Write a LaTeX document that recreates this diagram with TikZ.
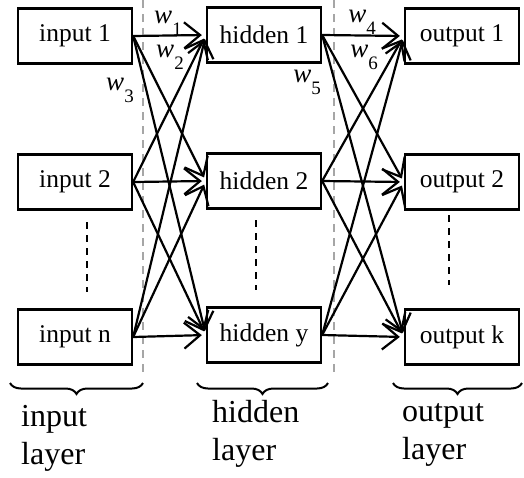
\documentclass[tikz,border=0pt]{standalone}
\usepackage{fontspec}
\setmainfont{Liberation Serif}
\usetikzlibrary{arrows.meta,decorations.pathreplacing}
\newcommand{\wsub}[1]{{\itshape w}\raisebox{-0.45em}{\fontsize{19}{19}\selectfont #1}}
\tikzset{
  unitbox/.style={draw, line width=2.3pt, minimum width=114pt, minimum height=55pt,
    inner sep=0pt, font=\fontsize{25.5}{25.5}\selectfont},
  link/.style={line width=2.2pt, shorten >=4pt,
    -{Straight Barb[length=16pt,width=26pt,line width=2.2pt]}},
  divider/.style={gray!70, line width=1.8pt, dash pattern=on 8pt off 6pt},
  ellipsis/.style={line width=2pt, dash pattern=on 7pt off 6pt},
  layerbrace/.style={decorate, decoration={brace, amplitude=11pt, mirror}, line width=2pt},
  layertext/.style={font=\fontsize{32}{38}\selectfont, align=left, anchor=north west, inner sep=0pt},
  weight/.style={font=\fontsize{27}{27}\selectfont, inner sep=0pt}
}
\begin{document}
\begin{tikzpicture}[x=1pt,y=-1pt]
\useasboundingbox (0,0) rectangle (524,477);

% layer separators
\draw[divider] (143,0) -- (143,372);
\draw[divider] (334,0) -- (334,372);

% units
\node[unitbox] (i1) at (75,36)  {input 1};
\node[unitbox] (i2) at (75,182) {input 2};
\node[unitbox] (in) at (75,337) {input n};
\node[unitbox] (h1) at (264,35)  {hidden 1};
\node[unitbox] (h2) at (264,181) {hidden 2};
\node[unitbox] (hy) at (264,335) {hidden y};
\node[unitbox] (o1) at (462,36)  {output 1};
\node[unitbox] (o2) at (462,182) {output 2};
\node[unitbox] (ok) at (462,337) {output k};

% vertical ellipses between rows
\draw[ellipsis] (87,222) -- (87,292);
\draw[ellipsis] (256,220) -- (256,290);
\draw[ellipsis] (449,215) -- (449,285);

% connections input -> hidden
\foreach \a in {i1,i2,in}
  \foreach \b in {h1,h2,hy}
    \draw[link] (\a.east) -- (\b.west);
% connections hidden -> output
\foreach \a in {h1,h2,hy}
  \foreach \b in {o1,o2,ok}
    \draw[link] (\a.east) -- (\b.west);

% weights
\node[weight] (w1) at (168,23) {\wsub{1}};
\node[weight] (w2) at (170,57) {\wsub{2}};
\node[weight] (w3) at (120,90) {\wsub{3}};
\node[weight] (w4) at (362,22) {\wsub{4}};
\node[weight] (w6) at (364,57) {\wsub{6}};
\node[weight] (w5) at (307,82) {\wsub{5}};

% layer braces and labels
\draw[layerbrace] (10,383) -- (143,383);
\draw[layerbrace] (197,383) -- (328,383);
\draw[layerbrace] (393,383) -- (522,383);
\node[layertext] (li) at (21,405) {input\\layer};
\node[layertext] (lh) at (212,400) {hidden\\layer};
\node[layertext] (lo) at (402,403) {output\\layer};
\end{tikzpicture}
\end{document}
